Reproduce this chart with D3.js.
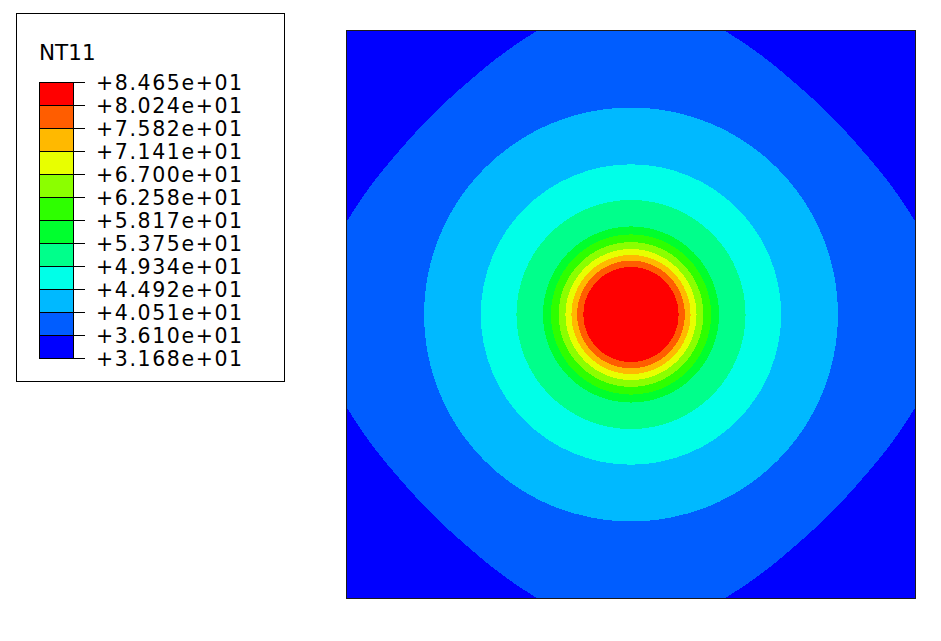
<!DOCTYPE html>
<html>
<head>
<meta charset="utf-8">
<script src="https://cdn.jsdelivr.net/npm/d3@7"></script>
<style>
  html, body { margin: 0; padding: 0; background: #ffffff; }
  svg { display: block; }
  text { font-family: "DejaVu Sans", Verdana, sans-serif; fill: #000; }
</style>
</head>
<body>
<svg id="chart" width="941" height="641"></svg>
<script>
// ---------------- DATA ----------------
const fieldName = "NT11";
// contour levels (bottom to top)
const levels = [31.68, 36.10, 40.51, 44.92, 49.34, 53.75, 58.17, 62.58, 67.00, 71.41, 75.82, 80.24, 84.65];
const tickLabels = ["+3.168e+01", "+3.610e+01", "+4.051e+01", "+4.492e+01", "+4.934e+01", "+5.375e+01",
                    "+5.817e+01", "+6.258e+01", "+6.700e+01", "+7.141e+01", "+7.582e+01", "+8.024e+01", "+8.465e+01"];
// band colours (lowest band first)
const bandColors = ["#0000ff", "#005dff", "#00b9ff", "#00ffe8", "#00ff8b", "#00ff2e",
                    "#2eff00", "#8bff00", "#e8ff00", "#ffb900", "#ff5d00", "#ff0000"];
// radius (model units, plate half-width = 1) at which each circular contour lies
const circleLevels = [40.51, 44.92, 49.34, 53.75, 58.17, 62.58, 67.00, 71.41, 75.82, 80.24];
const circleRadii  = [0.726, 0.527, 0.402, 0.309, 0.281, 0.254, 0.230, 0.209, 0.189, 0.167];
// the 36.10 contour, polar form over one octant (angle in degrees, radius in model units)
const outerContourAngle  = [0, 8, 14, 18, 22, 26, 30, 35, 40, 45];
const outerContourRadius = [1.18, 1.12, 1.075, 1.050, 1.034, 1.020, 1.008, 0.996, 0.990, 0.988];
const outerContourLevel = 36.10;
// ---------------------------------------

const svg = d3.select("#chart");

// ---- plot (model) scales ----
const plot = { left: 346, right: 916, top: 30, bottom: 599 };
const xS = d3.scaleLinear().domain([-1, 1]).range([plot.left, plot.right]);
const yS = d3.scaleLinear().domain([-1, 1]).range([plot.bottom, plot.top]);
const rS = d3.scaleLinear().domain([0, 1]).range([0, (plot.right - plot.left) / 2]);
const colorOf = d3.scaleThreshold().domain(levels.slice(1, -1)).range(bandColors);

svg.append("defs").append("clipPath").attr("id", "plate")
  .append("rect")
  .attr("x", xS(-1)).attr("y", yS(1))
  .attr("width", xS(1) - xS(-1)).attr("height", yS(-1) - yS(1));

const g = svg.append("g").attr("clip-path", "url(#plate)").attr("shape-rendering", "crispEdges");

// base band
g.append("rect")
  .attr("x", xS(-1)).attr("y", yS(1))
  .attr("width", xS(1) - xS(-1)).attr("height", yS(-1) - yS(1))
  .attr("fill", bandColors[0]);

// build full closed outer contour by mirroring the octant
const octant = outerContourAngle.map((a, i) => [a, outerContourRadius[i]]);
let full = [];
for (let q = 0; q < 4; q++) {
  const base = q * 90;
  octant.forEach(([a, r]) => full.push([base + a, r]));
  octant.slice(0, -1).reverse().forEach(([a, r]) => full.push([base + 90 - a, r]));
}
full = full.filter((d, i, arr) => i === 0 || Math.abs(d[0] - arr[i - 1][0]) > 1e-9);
full = full.filter(d => d[0] < 360);

const radial = d3.lineRadial()
  .angle(d => (90 - d[0]) * Math.PI / 180)
  .radius(d => rS(d[1]))
  .curve(d3.curveCatmullRomClosed.alpha(0.5));

g.append("path")
  .attr("transform", `translate(${xS(0)},${yS(0)})`)
  .attr("d", radial(full))
  .attr("fill", colorOf(outerContourLevel + 0.001));

// circular contours
g.selectAll("circle.band")
  .data(circleLevels.map((l, i) => ({ level: l, r: circleRadii[i] })))
  .join("circle")
  .attr("class", "band")
  .attr("cx", xS(0)).attr("cy", yS(0))
  .attr("r", d => rS(d.r))
  .attr("fill", d => colorOf(d.level + 0.001));

// plate outline
svg.append("rect")
  .attr("x", xS(-1) + 0.5).attr("y", yS(1) + 0.5)
  .attr("width", xS(1) - xS(-1) - 1).attr("height", yS(-1) - yS(1) - 1)
  .attr("fill", "none").attr("stroke", "#1a1a1a").attr("stroke-width", 1);

// ---- legend ----
svg.append("rect")
  .attr("x", 16.5).attr("y", 13.5).attr("width", 268).attr("height", 368)
  .attr("fill", "#fff").attr("stroke", "#000").attr("stroke-width", 1);

svg.append("text")
  .attr("x", 39).attr("y", 60)
  .style("font-size", "21.5px")
  .text(fieldName);

const ly = d3.scaleLinear().domain([0, levels.length - 1]).range([358, 82]);
const bar = { x0: 39, x1: 73 };
const lg = svg.append("g");
lg.selectAll("rect.cell")
  .data(bandColors)
  .join("rect")
  .attr("class", "cell")
  .attr("x", bar.x0 + 0.5)
  .attr("y", (d, i) => ly(i + 1) + 0.5)
  .attr("width", bar.x1 - bar.x0)
  .attr("height", (d, i) => ly(i) - ly(i + 1))
  .attr("fill", d => d)
  .attr("stroke", "#000").attr("stroke-width", 1);

lg.selectAll("line.tick")
  .data(levels)
  .join("line")
  .attr("class", "tick")
  .attr("x1", bar.x1).attr("x2", 85)
  .attr("y1", (d, i) => ly(i) + 0.5).attr("y2", (d, i) => ly(i) + 0.5)
  .attr("stroke", "#000").attr("stroke-width", 1);

lg.selectAll("text.lab")
  .data(tickLabels)
  .join("text")
  .attr("class", "lab")
  .attr("x", 96)
  .attr("y", (d, i) => ly(i) + 8)
  .style("font-size", "20.5px")
  .style("letter-spacing", "1.6px")
  .text(d => d);
</script>
</body>
</html>
